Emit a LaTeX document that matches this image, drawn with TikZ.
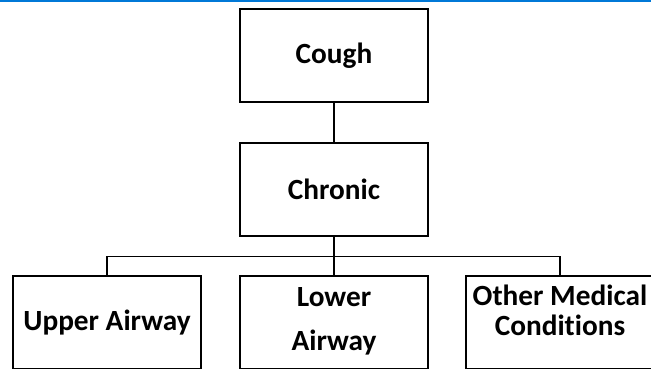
\documentclass[tikz,border=0pt]{standalone}
\usepackage{fontspec}
\setmainfont{Carlito}[Ligatures={NoCommon,NoRare}]
\usepackage{tikz}
\usepackage{xcolor}
\definecolor{topblue}{RGB}{0,120,215}

\begin{document}
\begin{tikzpicture}[x=1pt,y=-1pt]
\tikzstyle{box} =[draw, line width=1.6pt, minimum width=188pt, minimum height=93pt, inner sep=0pt, font=\fontsize{29.3}{30}\selectfont\bfseries, align=center]
\tikzstyle{boxtext} =[inner sep=0pt, font=\fontsize{29.3}{30}\selectfont\bfseries, align=center]
\tikzstyle{link} =[line width=1.6pt]

\useasboundingbox (0,0) rectangle (651,368);
\fill[topblue] (0,0) rectangle (651,1.6);

\node[box](cough) at (334,55.5){Cough};
\node[box](chronic) at (334,189.3){Chronic};
\node[box](upper) at (107,322.5){Upper Airway};
\node[box](lower) at (334,322.5){};
\node[box](other) at (560,322.5){};
\node[boxtext,font=\fontsize{29.3}{44}\selectfont\bfseries](lowertext) at (334,321){Lower\\Airway};
\node[boxtext](othertext) at (560,310){Other Medical\\Conditions};

\draw [link] (cough) -- (chronic);
\draw [link] (chronic.south) -- ++(0,19.7) coordinate (fork);
\draw [link] (fork) -| (upper.north);
\draw [link] (fork) -| (other.north);
\draw [link] (fork) -- (lower.north);
\end{tikzpicture}
\end{document}
